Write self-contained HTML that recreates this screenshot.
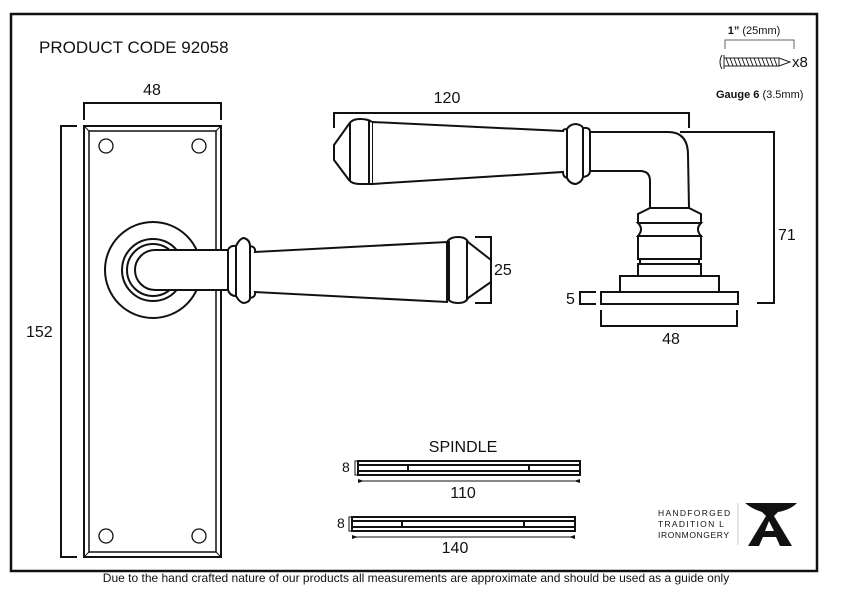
<!DOCTYPE html>
<html><head><meta charset="utf-8"><style>
html,body{margin:0;padding:0;background:#fff;width:842px;height:596px;overflow:hidden}
svg{display:block}
text{font-family:"Liberation Sans",sans-serif;fill:#111}
</style></head><body>
<svg width="842" height="596" viewBox="0 0 842 596" xmlns="http://www.w3.org/2000/svg">
<g fill="none" stroke="#111" stroke-width="2">
<rect x="11" y="14" width="806" height="557" stroke-width="2.5"/>
<rect x="84" y="126" width="137" height="431"/>
<rect x="89" y="131" width="127" height="421" stroke-width="1.5"/>
<line x1="84" y1="126" x2="89" y2="131" stroke-width="1"/><line x1="221" y1="126" x2="216" y2="131" stroke-width="1"/>
<line x1="84" y1="557" x2="89" y2="552" stroke-width="1"/><line x1="221" y1="557" x2="216" y2="552" stroke-width="1"/>
<g stroke-width="1.3"><circle cx="106" cy="146" r="7"/><circle cx="199" cy="146" r="7"/><circle cx="106" cy="536" r="7"/><circle cx="199" cy="536" r="7"/></g>
<polyline points="84,120 84,103 221,103 221,120"/>
<polyline points="77,126 61,126 61,557 77,557"/>
<circle cx="153" cy="270" r="48" fill="#fff"/>
<circle cx="153" cy="270" r="31"/>
<circle cx="153" cy="270" r="26"/>
<path d="M228,250 L155,250 A20,20 0 0 0 155,290 L228,290" fill="#fff"/>
<path d="M228,250 Q230,245 236,246 Q240,238 244,238 Q250,240 250,246 Q256,247 255,252 L447,242 L447,302 L255,292 Q256,297 250,298 Q250,302 244,303 Q240,303 236,296 Q230,296 228,290 Z" fill="#fff"/>
<line x1="236" y1="246" x2="236" y2="296"/><line x1="250" y1="246" x2="250" y2="298"/>
<path d="M447,242 Q450,237 458,237 Q466,237 468,242 L491,260 L491,282 L468,298 Q466,303 458,303 Q450,303 447,298 Z" fill="#fff"/>
<line x1="449" y1="241" x2="449" y2="300"/><line x1="467" y1="241" x2="467" y2="300"/>
<polyline points="475,237 491,237 491,303 475,303" />
<path d="M590,132 L668,132 Q688,132 688,155 L689,208 L650,208 L650,181 Q650,171 640,171 L590,171" fill="#fff"/>
<path d="M563,131 L372,122 L372,184 L563,172 Q563,177 567,178 Q570,184 576,184 Q582,182 583,177 Q590,176 590,171 L590,132 Q590,127 583,128 Q582,125 576,124 Q570,124 567,129 Q563,129 563,131 Z" fill="#fff"/>
<line x1="567" y1="129" x2="567" y2="178"/><line x1="583" y1="128" x2="583" y2="177"/>
<path d="M372,122 Q368,119 360,119 Q352,119 349,124 L334,145 L334,160 L349,180 Q352,184 360,184 Q368,184 372,184" fill="#fff"/>
<line x1="350" y1="123" x2="350" y2="181"/><line x1="369" y1="121" x2="369" y2="183"/>
<path d="M650,208 L689,208 L701,214 L701,223 L638,223 L638,214 Z" fill="#fff"/>
<path d="M638,223 L701,223 Q695,229 701,236 L638,236 Q644,229 638,223 Z" fill="#fff"/>
<rect x="638" y="236" width="63" height="23" fill="#fff"/>
<rect x="640" y="259" width="59" height="5" fill="#fff"/>
<rect x="638" y="264" width="63" height="12" fill="#fff"/>
<rect x="620" y="276" width="99" height="16" fill="#fff"/>
<rect x="601" y="292" width="137" height="12" fill="#fff"/>
<polyline points="334,128 334,113 689,113 689,128"/>
<polyline points="680,132 774,132 774,303 757,303"/>
<polyline points="596,292 580,292 580,304 596,304"/>
<polyline points="601,310 601,326 737,326 737,310"/>
<g stroke-width="2">
<rect x="358" y="461" width="222" height="4"/><rect x="358" y="471" width="222" height="4"/>
<rect x="358" y="465" width="50" height="6"/><rect x="529" y="465" width="51" height="6"/>
<rect x="352" y="517" width="223" height="4"/><rect x="352" y="527" width="223" height="4"/>
<rect x="352" y="521" width="50" height="6"/><rect x="524" y="521" width="51" height="6"/>
</g>
<g stroke-width="1"><polyline points="358,461 355,461 355,475 358,475"/><polyline points="352,517 349,517 349,531 352,531"/>
<line x1="358" y1="481" x2="580" y2="481"/><line x1="352" y1="537" x2="575" y2="537"/></g>
<polyline points="725,49 725,40 794,40 794,49" stroke-width="1" stroke="#666"/>
<line x1="738" y1="503" x2="738" y2="545" stroke-width="0.8" stroke="#bbb"/>
</g>
<g fill="#111">
<path d="M358,479 L364,481 L358,483Z"/><path d="M580,479 L574,481 L580,483Z"/>
<path d="M352,535 L358,537 L352,539Z"/><path d="M575,535 L569,537 L575,539Z"/>
<path d="M745,503 L797,503 Q790,510 778,512 L774,516 L792,546 L780,546 L776,537 L763,537 L759,546 L748,546 L766,516 L762,512 Q752,509 745,503Z M769,521 L765,531 L774,531Z" fill-rule="evenodd"/>
</g>
<g stroke="#222" stroke-width="1" fill="none">
<path d="M722,55 Q718,62 722,69"/><line x1="724" y1="55" x2="724" y2="69"/>
<rect x="724" y="58" width="55" height="8"/>
<path d="M726,58 l3,8 M730,58 l3,8 M734,58 l3,8 M738,58 l3,8 M742,58 l3,8 M746,58 l3,8 M750,58 l3,8 M754,58 l3,8 M758,58 l3,8 M762,58 l3,8 M766,58 l3,8 M770,58 l3,8 M774,58 l3,8"/>
<path d="M779,58 L790,62 L779,66"/>
</g>
<text x="39" y="53" font-size="17">PRODUCT CODE  92058</text>
<text x="152" y="95" font-size="16" text-anchor="middle">48</text>
<text x="26" y="337" font-size="16">152</text>
<text x="447" y="103" font-size="16" text-anchor="middle">120</text>
<text x="494" y="275" font-size="16">25</text>
<text x="778" y="240" font-size="16">71</text>
<text x="566" y="304" font-size="16">5</text>
<text x="671" y="344" font-size="16" text-anchor="middle">48</text>
<text x="463" y="452" font-size="16" text-anchor="middle">SPINDLE</text>
<text x="342" y="472" font-size="14">8</text>
<text x="463" y="498" font-size="16" text-anchor="middle">110</text>
<text x="337" y="528" font-size="14">8</text>
<text x="455" y="553" font-size="16" text-anchor="middle">140</text>
<text x="754" y="34" font-size="11" font-weight="bold" text-anchor="middle">1” <tspan font-weight="normal">(25mm)</tspan></text>
<text x="792" y="67" font-size="15">x8</text>
<text x="716" y="98" font-size="11" font-weight="bold">Gauge 6 <tspan font-weight="normal">(3.5mm)</tspan></text>
<g font-family="Liberation Serif,serif" font-size="8.5" style="letter-spacing:1.3px" fill="#444">
<text x="658" y="516">HANDFORGED</text>
<text x="658" y="527">TRADITION  L</text>
<text x="658" y="538" style="letter-spacing:0.6px">IRONMONGERY</text>
</g>
<text x="416" y="582" font-size="12" text-anchor="middle">Due to the hand crafted nature of our products all measurements are approximate and should be used as a guide only</text>
</svg>
</body></html>
